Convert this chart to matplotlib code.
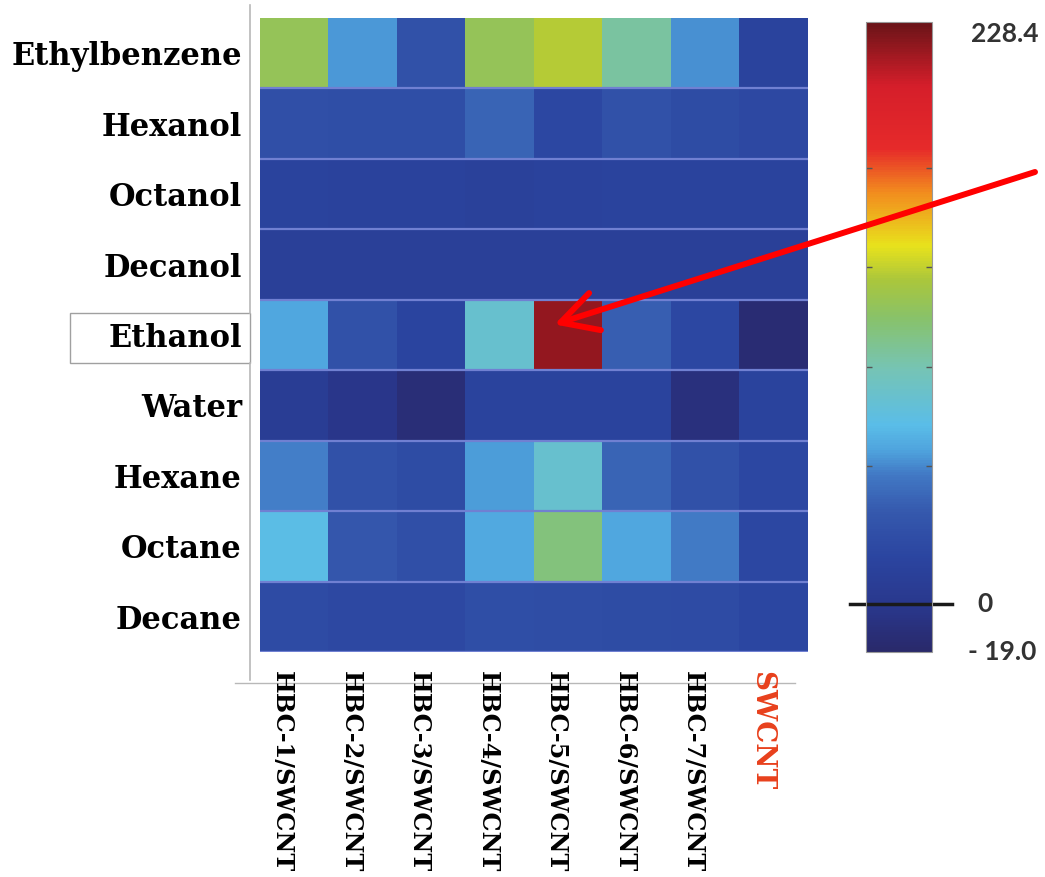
import numpy as np
import matplotlib
matplotlib.use("Agg")
import matplotlib.pyplot as plt
import matplotlib.transforms as mtransforms
from matplotlib.colors import LinearSegmentedColormap, Normalize
from matplotlib.lines import Line2D
from matplotlib.patches import Rectangle

# solvents (rows, top to bottom) and sensors (columns)
solvents = ["Ethylbenzene", "Hexanol", "Octanol", "Decanol", "Ethanol",
            "Water", "Hexane", "Octane", "Decane"]
sensors = ["HBC-1/SWCNT", "HBC-2/SWCNT", "HBC-3/SWCNT", "HBC-4/SWCNT",
           "HBC-5/SWCNT", "HBC-6/SWCNT", "HBC-7/SWCNT", "SWCNT"]

ethylbenzene = [118, 57.5, 30, 118, 129, 97, 55.5, 16]
hexanol = [28, 27, 27, 41, 21, 30, 25, 22]
octanol = [16, 15, 15, 13, 15, 16, 16, 16]
decanol = [11, 11, 11, 11, 11, 11, 11, 11]
ethanol = [62, 30, 18, 81, 218.5, 38.5, 21, -14]
water = [8, -2, -12, 16, 16, 16, -9, 16]
hexane = [52.5, 30, 25, 58.5, 81, 41, 30, 21]
octane = [71, 35, 28, 63, 107, 62, 51.5, 21]
decane = [24, 22, 22, 27, 26, 25, 24, 20]

vmin, vmax = -19.0, 228.4
cbar_marks = [54, 93, 132, 171]

data = np.array([ethylbenzene, hexanol, octanol, decanol, ethanol,
                 water, hexane, octane, decane], dtype=float)

# jet-like map with muted tones
stops = [(0.00, "#29296a"), (0.07, "#29378c"), (0.15, "#2b45a0"),
         (0.22, "#3558ad"), (0.28, "#4178c4"), (0.32, "#4fa4de"),
         (0.36, "#5abde8"), (0.45, "#76c4b4"), (0.53, "#88c26a"),
         (0.59, "#aac63c"), (0.645, "#e8e21c"), (0.73, "#f28c1e"),
         (0.80, "#e62a2a"), (0.90, "#d51e2a"), (1.00, "#6a1418")]
cmap = LinearSegmentedColormap.from_list("solv", stops)

fig = plt.figure(figsize=(10.45, 8.77), dpi=100)
W, H = 1045, 877

def box(x0, y0, x1, y1):
    return [x0 / W, 1 - y1 / H, (x1 - x0) / W, (y1 - y0) / H]

ax = fig.add_axes(box(260, 18, 808, 652))
ax.set_zorder(3)
im = ax.imshow(data, cmap=cmap, norm=Normalize(vmin, vmax),
               aspect="auto", interpolation="nearest")
for y in np.arange(0.5, len(solvents), 1.0):
    ax.axhline(y, color="#7080d2", lw=1.6)
for s in ax.spines.values():
    s.set_visible(False)

ax.set_yticks(range(len(solvents)))
ax.set_yticklabels(solvents, family="DejaVu Serif", fontweight="bold",
                   fontsize=22)
ax.tick_params(axis="y", length=0, pad=13)

ax.set_xticks(range(len(sensors)))
ax.set_xticklabels(sensors, family="DejaVu Serif", fontweight="bold",
                   fontsize=17.3, rotation=270)
ax.tick_params(axis="x", length=0, pad=14)
shift = mtransforms.ScaledTranslation(-12 / 100, 0, fig.dpi_scale_trans)
for lab in ax.get_xticklabels():
    lab.set_transform(lab.get_transform() + shift)
    if lab.get_text() == "SWCNT":
        lab.set_color("#e8401c")
        lab.set_fontsize(20)

# outline lines and the frame around Ethanol
grey = "#b8b8b8"
fig.add_artist(Line2D([250 / W, 250 / W], [1 - 5 / H, 1 - 313 / H],
                      color=grey, lw=1.2))
fig.add_artist(Line2D([250 / W, 250 / W], [1 - 363 / H, 1 - 680 / H],
                      color=grey, lw=1.2))
fig.add_artist(Line2D([235 / W, 795 / W], [1 - 683 / H, 1 - 683 / H],
                      color=grey, lw=1.0))
fig.add_artist(Rectangle((70 / W, 1 - 363 / H), 180 / W, 50 / H,
                         transform=fig.transFigure, fill=False,
                         ec="#a0a0a0", lw=1.0))

# colorbar
cax = fig.add_axes(box(866, 22, 932, 652))
cax.set_zorder(1)
cb = fig.colorbar(im, cax=cax)
cb.outline.set_edgecolor("#999999")
cb.outline.set_linewidth(0.8)
cax.set_yticks(cbar_marks)
cax.set_yticklabels([])
cax.tick_params(axis="y", direction="in", left=True, right=True,
                length=4, width=1, color="#555555")
cax.plot([-0.25, 1.3], [0, 0], color="#1a1a1a", lw=2.5,
         transform=cax.get_yaxis_transform(), clip_on=False)
lbl = dict(family="Lato", fontweight="bold", fontsize=19, color="#333333",
           transform=cax.get_yaxis_transform())
cax.text(2.1, vmax, "228.4", ha="center", va="top", **lbl)
cax.text(1.8, 0, "0", ha="center", va="center", **lbl)
cax.text(2.06, vmin, "- 19.0", ha="center", va="center", **lbl)

# arrow pointing to the strongest response
ax.annotate("", xy=(3.8, 3.85), xycoords="data",
            xytext=(1035 / W, 1 - 172 / H), textcoords="figure fraction",
            arrowprops=dict(arrowstyle="->,head_length=1.3,head_width=0.7",
                            color="#ff0000", lw=4.3, mutation_scale=20,
                            shrinkA=0, shrinkB=0),
            annotation_clip=False)

fig.savefig("out.png", dpi=100)
